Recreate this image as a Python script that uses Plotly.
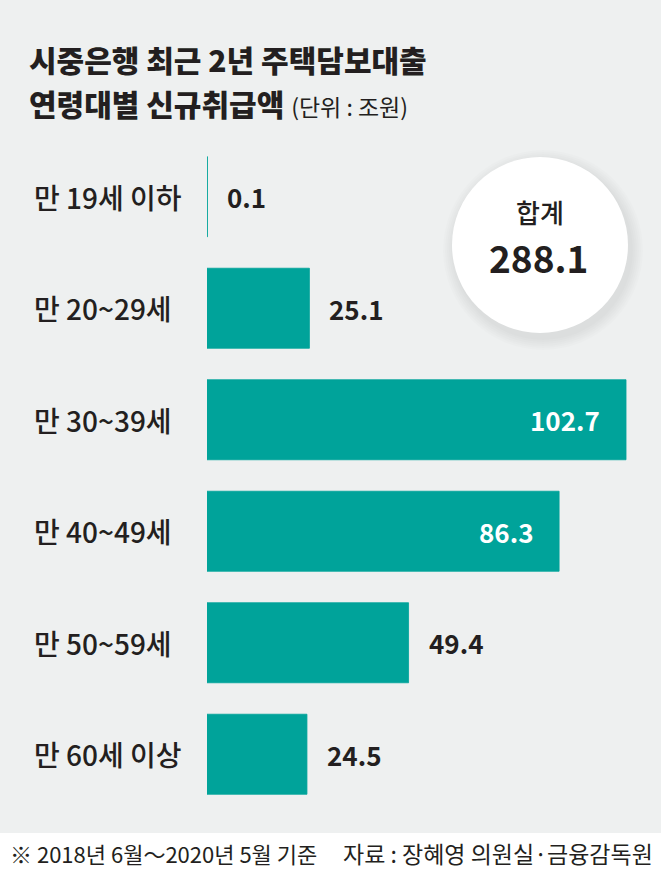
import plotly.graph_objects as go

# 연령대별 신규취급액 (단위: 조원)
age_groups = ["만 19세 이하", "만 20~29세", "만 30~39세", "만 40~49세", "만 50~59세", "만 60세 이상"]
amounts = [0.1, 25.1, 102.7, 86.3, 49.4, 24.5]
inside_label = [False, False, True, True, False, False]
total = sum(amounts)

title_1 = "시중은행 최근 2년 주택담보대출"
title_2 = "연령대별 신규취급액"
unit_txt = "(단위 : 조원)"
note_txt = "※ 2018년 6월～2020년 5월 기준"
source_txt = "자료 : 장혜영 의원실·금융감독원"

W, H = 661, 872
L, R, T, B = 207, 0, 141, 62
PW, PH = W - L - R, H - T - B
TEAL = "#00a39a"
BG = "#eef0f0"
INK = "#231f20"
FONT = "Noto Sans CJK KR"


def px_x(x):
    return (x - L) / PW


def px_y(y):
    return (H - B - y) / PH


def label(x, y, text, size, weight, anchor="left", color=INK):
    return dict(x=px_x(x), y=px_y(y), xref="paper", yref="paper", text=text,
                showarrow=False, xanchor=anchor, yanchor="middle",
                font=dict(family=FONT, size=size, color=color, weight=weight))


fig = go.Figure(
    go.Bar(
        x=amounts,
        y=age_groups,
        orientation="h",
        marker=dict(color=TEAL, line=dict(color=TEAL, width=0.8)),
        hoverinfo="skip",
    )
)

annotations = []
for cat, val, inside in zip(age_groups, amounts, inside_label):
    annotations.append(dict(
        x=px_x(32), xref="paper", y=cat, yref="y", text=cat, showarrow=False,
        xanchor="left", yanchor="middle",
        font=dict(family=FONT, size=28, color=INK, weight=500),
    ))
    annotations.append(dict(
        x=val, xref="x", y=cat, yref="y", text=f"{val:.1f}", showarrow=False,
        xanchor="right" if inside else "left", yanchor="middle",
        xshift=-24 if inside else 18,
        font=dict(family=FONT, size=26, color="white" if inside else INK, weight=700),
    ))

annotations += [
    label(27, 59, title_1, 30, 900),
    label(27, 103, f"{title_2} <span style='font-size:23px;font-weight:400'>{unit_txt}</span>", 30, 900),
    label(540, 211, "합계", 26, 500, "center"),
    label(538, 257, f"{total:.1f}", 37, 700, "center"),
    label(8, 853, note_txt, 22, 400),
    label(655, 853, source_txt, 23, 400, "right"),
]

# footer band and total bubble
shapes = [dict(type="rect", xref="paper", yref="paper", x0=px_x(0), x1=px_x(W),
               y0=px_y(833), y1=px_y(H), fillcolor="white", line_width=0, layer="below")]
cx, cy, r = 540, 245, 88
for k in range(12, 0, -2):
    shapes.append(dict(type="circle", xref="paper", yref="paper",
                       x0=px_x(cx - r - k + 3), x1=px_x(cx + r + k + 3),
                       y0=px_y(cy + r + k + 5), y1=px_y(cy - r - k + 5),
                       fillcolor="rgba(0,0,0,0.012)", line_width=0))
shapes.append(dict(type="circle", xref="paper", yref="paper",
                   x0=px_x(cx - r), x1=px_x(cx + r), y0=px_y(cy + r), y1=px_y(cy - r),
                   fillcolor="white", line_width=0))

fig.update_layout(
    width=W, height=H,
    margin=dict(l=L, r=R, t=T, b=B),
    paper_bgcolor=BG, plot_bgcolor=BG,
    bargap=0.282,
    showlegend=False,
    xaxis=dict(range=[0, PW / 4.08], visible=False, fixedrange=True),
    yaxis=dict(type="category", categoryarray=age_groups, range=[5.5, -0.5],
               visible=False, fixedrange=True),
    annotations=annotations,
    shapes=shapes,
)

fig.write_html("out.html", config={"displayModeBar": False},
               post_script="document.body.style.margin='0';")
